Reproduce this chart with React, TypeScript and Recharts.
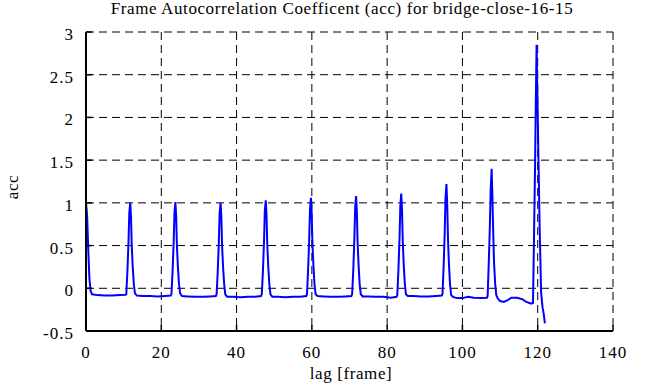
import { CartesianGrid, Line, LineChart, XAxis, YAxis } from "recharts";

// lag in frames, sampled finer around each periodic peak
const lagFrames = [
  0, 0.3, 0.6, 0.9, 1.2, 1.6, 3, 5, 7, 9, 10.5,
  10.7, 11.0, 11.3, 11.5, 11.75, 11.95, 12.15, 12.4, 12.7, 13.0, 13.5, 15, 17, 19, 21, 22.5,
  22.7, 23.0, 23.3, 23.5, 23.75, 23.95, 24.15, 24.4, 24.7, 25.0, 25.5, 27, 29, 31, 33, 34.5,
  34.7, 35.0, 35.3, 35.5, 35.75, 35.95, 36.15, 36.4, 36.7, 37.0, 37.5, 39, 41, 43, 45, 46.5,
  46.7, 47.0, 47.3, 47.5, 47.75, 47.95, 48.15, 48.4, 48.7, 49.0, 49.5, 51, 53, 55, 57, 58.5,
  58.7, 59.0, 59.3, 59.5, 59.75, 59.95, 60.15, 60.4, 60.7, 61.0, 61.5, 63, 65, 67, 69, 70.5,
  70.7, 71.0, 71.3, 71.5, 71.75, 71.95, 72.15, 72.4, 72.7, 73.0, 73.5, 75, 77, 79, 81, 82.5,
  82.7, 83.0, 83.3, 83.5, 83.75, 83.95, 84.15, 84.4, 84.7, 85.0, 85.5, 87, 89, 91, 93, 94.5,
  94.7, 95.0, 95.3, 95.5, 95.75, 95.95, 96.15, 96.4, 96.7, 97.0, 97.5, 98.5, 100, 101.5, 103, 105, 106.5,
  106.7, 107.0, 107.3, 107.5, 107.75, 107.95, 108.15, 108.4, 108.7, 109.0, 109.4, 110, 111, 112, 113, 114.5, 116, 117, 118.3, 118.75,
  119.05, 119.3, 119.5, 119.7, 119.9, 120.2, 120.5, 120.9, 121.3, 121.6, 121.9,
];

const accValues = [
  1.0, 0.85, 0.45, 0.12, -0.03, -0.07, -0.08, -0.085, -0.085, -0.08, -0.075,
  -0.07, 0.2, 0.55, 0.88, 1.0, 0.84, 0.5, 0.26, 0.05, -0.06, -0.085, -0.09, -0.09, -0.095, -0.09, -0.085,
  -0.07, 0.2, 0.55, 0.88, 1.01, 0.85, 0.5, 0.26, 0.05, -0.06, -0.09, -0.095, -0.1, -0.1, -0.095, -0.09,
  -0.07, 0.2, 0.55, 0.88, 1.0, 0.84, 0.5, 0.26, 0.05, -0.07, -0.1, -0.1, -0.105, -0.1, -0.1, -0.09,
  -0.07, 0.2, 0.56, 0.9, 1.03, 0.86, 0.52, 0.27, 0.05, -0.07, -0.1, -0.1, -0.105, -0.1, -0.1, -0.09,
  -0.07, 0.21, 0.58, 0.92, 1.06, 0.88, 0.53, 0.28, 0.05, -0.07, -0.09, -0.095, -0.1, -0.1, -0.095, -0.09,
  -0.07, 0.21, 0.59, 0.94, 1.08, 0.9, 0.54, 0.28, 0.05, -0.07, -0.095, -0.095, -0.1, -0.1, -0.11, -0.1,
  -0.08, 0.22, 0.6, 0.96, 1.11, 0.92, 0.55, 0.28, 0.05, -0.07, -0.09, -0.09, -0.095, -0.095, -0.09, -0.085,
  -0.07, 0.25, 0.66, 1.05, 1.22, 1.0, 0.6, 0.3, 0.05, -0.08, -0.1, -0.115, -0.115, -0.1, -0.11, -0.115, -0.11,
  -0.09, 0.3, 0.74, 1.15, 1.4, 1.1, 0.7, 0.3, 0.05, -0.08, -0.12, -0.15, -0.16, -0.14, -0.11, -0.11, -0.13, -0.16, -0.18, -0.17,
  0.7, 1.45, 2.2, 2.85, 2.3, 1.5, 0.75, -0.05, -0.23, -0.3, -0.41,
];

const xTicks = [0, 20, 40, 60, 80, 100, 120, 140];
const yTicks = [-0.5, 0, 0.5, 1, 1.5, 2, 2.5, 3];

const rows = lagFrames.map((lag, i) => ({ lag, acc: accValues[i] }));

const FONT = "'Liberation Serif', 'Times New Roman', serif";
const TICK_LEN = 6;

const LeftTick = ({ x, y, payload }: any) => (
  <g>
    <line x1={x} x2={x + TICK_LEN} y1={y} y2={y} stroke="#000" strokeWidth={1.5} />
    <text x={x - 12} y={y + 8} textAnchor="end" fontFamily={FONT} fontSize={17} letterSpacing={1} fill="#000">
      {payload.value}
    </text>
  </g>
);

const RightTick = ({ x, y }: any) => (
  <line x1={x} x2={x - TICK_LEN} y1={y} y2={y} stroke="#000" strokeWidth={1.5} />
);

const BottomTick = ({ x, y, payload }: any) => (
  <g>
    <line x1={x} x2={x} y1={y} y2={y - TICK_LEN} stroke="#000" strokeWidth={1.5} />
    <text x={x} y={y + 27} textAnchor="middle" fontFamily={FONT} fontSize={17} letterSpacing={1} fill="#000">
      {payload.value}
    </text>
  </g>
);

const TopTick = ({ x, y }: any) => (
  <line x1={x} x2={x} y1={y} y2={y + TICK_LEN} stroke="#000" strokeWidth={1.5} />
);

export default function App() {
  return (
    <div style={{ position: "absolute", left: 0, top: 0, width: 666, height: 387, background: "#fff" }}>
      <div
        style={{
          position: "absolute",
          left: 342,
          top: -1,
          transform: "translateX(-50%)",
          whiteSpace: "nowrap",
          fontFamily: FONT,
          fontSize: 17,
          letterSpacing: 0.6,
          lineHeight: "20px",
        }}
      >
        Frame Autocorrelation Coefficent (acc) for bridge-close-16-15
      </div>
      <div
        style={{
          position: "absolute",
          left: 13,
          top: 187,
          transform: "translate(-50%, -50%) rotate(-90deg)",
          fontFamily: FONT,
          fontSize: 17,
          letterSpacing: 0.6,
          lineHeight: "20px",
        }}
      >
        acc
      </div>
      <div
        style={{
          position: "absolute",
          left: 351,
          top: 364,
          transform: "translateX(-50%)",
          whiteSpace: "nowrap",
          fontFamily: FONT,
          fontSize: 17,
          letterSpacing: 0.6,
          lineHeight: "20px",
        }}
      >
        lag [frame]
      </div>
      <LineChart width={666} height={387} data={rows} margin={{ top: 32, right: 53, bottom: 26, left: 26 }}>
        <CartesianGrid stroke="#000" strokeDasharray="8 5" strokeWidth={1} />
        <XAxis
          dataKey="lag"
          type="number"
          domain={[0, 140]}
          ticks={xTicks}
          height={30}
          tickSize={0}
          tickMargin={0}
          tickLine={false}
          axisLine={{ stroke: "#000", strokeWidth: 2 }}
          tick={<BottomTick />}
          interval={0}
        />
        <XAxis
          xAxisId="top"
          orientation="top"
          dataKey="lag"
          type="number"
          domain={[0, 140]}
          ticks={xTicks}
          height={0}
          tickSize={0}
          tickMargin={0}
          tickLine={false}
          axisLine={{ stroke: "#000", strokeWidth: 2 }}
          tick={<TopTick />}
          interval={0}
        />
        <YAxis
          type="number"
          domain={[-0.5, 3]}
          ticks={yTicks}
          width={60}
          tickSize={0}
          tickMargin={0}
          tickLine={false}
          axisLine={{ stroke: "#000", strokeWidth: 2 }}
          tick={<LeftTick />}
          interval={0}
        />
        <YAxis
          yAxisId="right"
          orientation="right"
          type="number"
          domain={[-0.5, 3]}
          ticks={yTicks}
          width={0}
          tickSize={0}
          tickMargin={0}
          tickLine={false}
          axisLine={{ stroke: "#000", strokeWidth: 2 }}
          tick={<RightTick />}
          interval={0}
        />
        <Line
          dataKey="acc"
          type="linear"
          stroke="#0000ff"
          strokeWidth={2}
          dot={false}
          isAnimationActive={false}
        />
      </LineChart>
    </div>
  );
}
